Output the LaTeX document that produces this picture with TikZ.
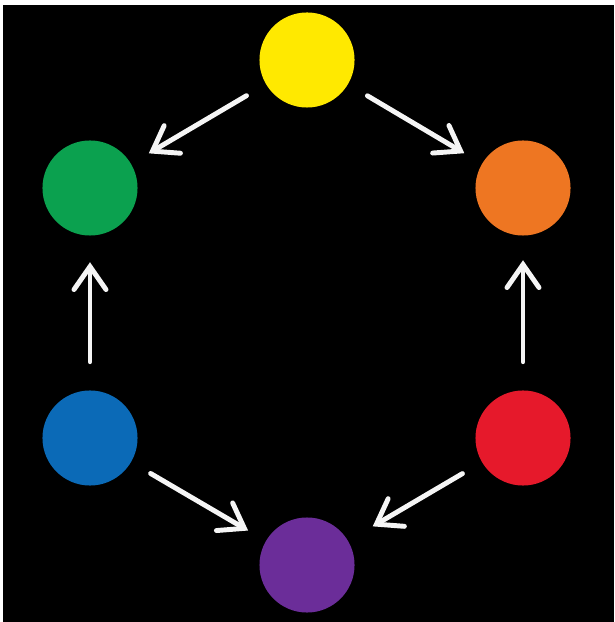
\documentclass[tikz,border=0pt]{standalone}
\usepackage{tikz}
\usetikzlibrary{arrows.meta}
\definecolor{wheelyellow}{HTML}{FFE900}
\definecolor{wheelorange}{HTML}{EE7622}
\definecolor{wheelred}{HTML}{E6192B}
\definecolor{wheelpurple}{HTML}{6B2D99}
\definecolor{wheelblue}{HTML}{0B6AB7}
\definecolor{wheelgreen}{HTML}{0BA14F}
\begin{document}
\begin{tikzpicture}[
    x=0.01cm, y=-0.01cm,
    dot/.style={circle, inner sep=0pt, minimum size=0.95cm},
    mix/.style={draw=white!96!black, line width=1.4pt, line cap=round,
      -{Straight Barb[length=2.3mm, width=3.2mm, line cap=round]},
      shorten <=0.22cm, shorten >=0.2cm},
  ]
    \useasboundingbox (0,0) rectangle (614,622);
    \fill[white] (0,0) rectangle (614,622);
    \fill[black] (3,5) rectangle (614,622);
    \node[dot, fill=wheelyellow] (yellow) at (307,60) {};
    \node[dot, fill=wheelorange] (orange) at (523,188) {};
    \node[dot, fill=wheelred] (red) at (523,438) {};
    \node[dot, fill=wheelpurple] (purple) at (307,565) {};
    \node[dot, fill=wheelblue] (blue) at (90,438) {};
    \node[dot, fill=wheelgreen] (green) at (90,188) {};
    \draw[mix] (yellow) -- (green);
    \draw[mix] (yellow) -- (orange);
    \draw[mix, shorten <=0.28cm, shorten >=0.26cm] (blue) -- (green);
    \draw[mix, shorten <=0.28cm, shorten >=0.24cm] (red) -- (orange);
    \draw[mix] (blue) -- (purple);
    \draw[mix, shorten >=0.28cm] (red) -- (purple);
  \end{tikzpicture}
\end{document}
